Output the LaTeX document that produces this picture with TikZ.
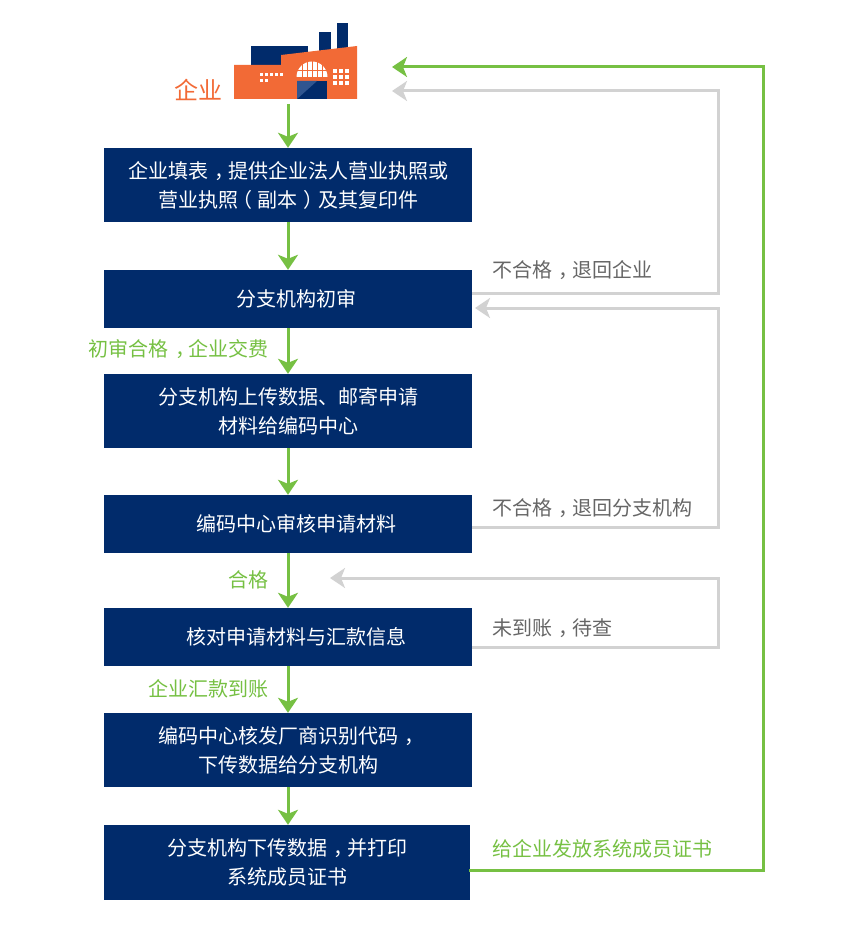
\documentclass[tikz,border=0pt]{standalone}
\usepackage{fontspec}
\setmainfont{Noto Sans CJK SC}
\usetikzlibrary{arrows.meta,positioning,calc}
\definecolor{navyb}{HTML}{012B6B}
\definecolor{doorb}{HTML}{2F5590}
\definecolor{greenl}{HTML}{76C043}
\definecolor{grayl}{HTML}{D2D2D2}
\definecolor{grayt}{HTML}{666666}
\definecolor{orangef}{HTML}{F26A36}
\newcommand{\midcomma}{\makebox[1em][l]{\hspace{.34em}，}}
\newcommand{\midopen}{\makebox[1em][l]{\hspace{-.3em}（}}
\newcommand{\midclose}{\makebox[1em][l]{\hspace{.3em}）}}

\begin{document}
\begin{tikzpicture}
[x=1pt,y=-1pt,
%
stepbox/.style={shape=rectangle,fill=navyb,text=white,minimum width=368pt,align=center,font=\fontsize{20}{29}\selectfont,inner sep=0pt},
greentxt/.style={text=greenl,font=\fontsize{20}{22}\selectfont,inner sep=0pt},
graytxt/.style={text=grayt,font=\fontsize{20}{22}\selectfont,inner sep=0pt,anchor=west},
%
flow/.style={draw=greenl,line width=3pt,-{Stealth[length=15pt,width=20pt,inset=4pt]}},
back/.style={draw=grayl,line width=3pt,-{Stealth[length=15pt,width=20pt,inset=4pt]}},
backg/.style={back,draw=greenl}]
\useasboundingbox (0,0) rectangle (841,925);
%
% factory
\fill[navyb] (251,46) rectangle (308,66);
\fill[navyb] (319,32) rectangle (331,54);
\fill[navyb] (337,23) rectangle (348,50);
\fill[orangef] (234,65) -- (281,65) -- (281,55) -- (357,46) -- (357,99) -- (234,99) -- cycle;
\fill[white] (296.5,77) arc (180:360:15.5) -- cycle;
\foreach \x in {302,307,312,317,322}
   \fill[orangef] (\x-.4,60) rectangle (\x+.4,78);
\fill[orangef] (295,70) rectangle (329,71);
\fill[navyb] (297,81) rectangle (327,99);
\fill[doorb] (297,99) -- (297,81) -- (317,81) -- cycle;
\foreach \x in {261,266,271,276,281}
   \fill[white] (\x-1.5,75-1.5) rectangle (\x+1.5,75+1.5);
\foreach \x in {261,266}
   \fill[white] (\x-1.5,81-1.5) rectangle (\x+1.5,81+1.5);
\foreach \x in {335,341,347}
   \foreach \y in {71,77,83}
      \fill[white] (\x-2,\y-2) rectangle (\x+2,\y+2);
\node (logo) [text=orangef,font=\fontsize{24}{24}\selectfont,inner sep=0pt] at (198.5,90) {企业};
\coordinate (logoS) at (288,104);
\coordinate (logoE) at (392,67);
\coordinate (logoF) at (392,91);
%%
% boxes
\node (b1) [stepbox,minimum height=74pt] at (288,185) {企业填表\midcomma 提供企业法人营业执照或\\营业执照\midopen 副本\midclose 及其复印件};
\node (b2) [stepbox,minimum height=58pt] at (288,299) {\hspace*{16pt}分支机构初审};
\node (b3) [stepbox,minimum height=74pt] at (288,411) {分支机构上传数据、邮寄申请\\材料给编码中心};
\node (b4) [stepbox,minimum height=58pt] at (288,524) {\hspace*{16pt}编码中心审核申请材料};
\node (b5) [stepbox,minimum height=58pt] at (288,637) {\hspace*{16pt}核对申请材料与汇款信息};
\node (b6) [stepbox,minimum height=74pt] at (288,750) {编码中心核发厂商识别代码\midcomma\\下传数据给分支机构};
\node (b7) [stepbox,minimum height=75pt,minimum width=366pt] at (287,862.5) {分支机构下传数据\midcomma 并打印\\系统成员证书};
%%
% main flow
\draw[flow] (logoS) -- (b1);
\foreach \a/\b in {b1/b2,b2/b3,b3/b4,b4/b5,b5/b6}
   \draw[flow] (\a) -- (\b);
\draw[flow] (b6.south) -- (b6.south |- b7.north);
%%
% way back
\coordinate (r2) at (472,293);
\coordinate (r4) at (472,527);
\coordinate (r5) at (472,647);
\coordinate (r7) at (469,870);
\coordinate (in2) at (475,308);
\coordinate (in4) at (330,578);
\draw[back] (r2) -- (718,293) -- (718,91) -- (logoF);
\draw[back] (r4) -- (718,527) -- (718,308) -- (in2);
\draw[back] (r5) -- (718,647) -- (718,578) -- (in4);
\draw[backg] (r7) -- (763,870) -- (763,67) -- (logoE);
%%
% labels
\node (t1) [graytxt] at (492,270) {不合格\midcomma 退回企业};
\node (t2) [graytxt] at (492,508) {不合格\midcomma 退回分支机构};
\node (t3) [graytxt] at (492,628) {未到账\midcomma 待查};
\node (t4) [greentxt,anchor=west] at (492,849) {给企业发放系统成员证书};
\node (g1) [greentxt,anchor=east] at (269,349) {初审合格\midcomma 企业交费};
\node (g2) [greentxt,anchor=east] at (269,580) {合格};
\node (g3) [greentxt,anchor=east] at (269,689) {企业汇款到账};
\end{tikzpicture}
\end{document}
